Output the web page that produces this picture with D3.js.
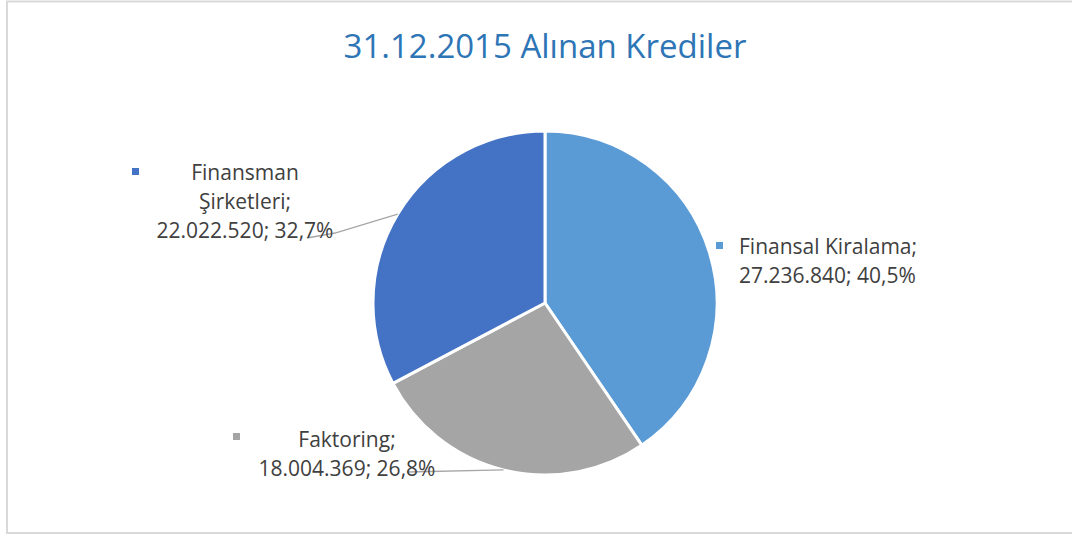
<!DOCTYPE html>
<html><head><meta charset="utf-8">
<script src="https://cdn.jsdelivr.net/npm/d3@7"></script>
<style>
html,body{margin:0;padding:0;background:#fff;}
svg{display:block;font-family:"Open Sans",sans-serif;}
</style></head>
<body>
<svg id="chart" width="1072" height="536"></svg>
<script>
const categories = ["Finansal Kiralama", "Faktoring", "Finansman Şirketleri"];
const values = [27236840, 18004369, 22022520];
const valueLabels = ["27.236.840", "18.004.369", "22.022.520"];
const percentLabels = ["40,5%", "26,8%", "32,7%"];
const colors = ["#5B9BD5", "#A5A5A5", "#4472C4"];
const titleText = "31.12.2015 Alınan Krediler";

const svg = d3.select("#chart");
svg.append("rect").attr("x", 7).attr("y", 1.5).attr("width", 1080).attr("height", 531.5)
  .attr("fill", "#fff").attr("stroke", "#d9d9d9").attr("stroke-width", 2);

svg.append("text").attr("x", 545).attr("y", 58).attr("text-anchor", "middle")
  .attr("fill", "#2E75B6").attr("font-size", 33).text(titleText);

const cx = 545, cy = 303, r = 172;
const g = svg.append("g").attr("transform", `translate(${cx},${cy})`);
const pie = d3.pie().sort(null).value(d => d)(values);
const arc = d3.arc().innerRadius(0).outerRadius(r);
g.selectAll("path").data(pie).join("path")
  .attr("d", arc).attr("fill", (d, i) => colors[i])
  .attr("stroke", "#fff").attr("stroke-width", 3).attr("stroke-linejoin", "round");

const fs = 21, lh = 29;
const labelDefs = [
  {lines: [categories[0] + ";", valueLabels[0] + "; " + percentLabels[0]], x: 739, y: 254, anchor: "start", mx: 716, my: 242, leader: null},
  {lines: [categories[1] + ";", valueLabels[1] + "; " + percentLabels[1]], x: 347, y: 447, anchor: "middle", mx: 233, my: 433, leader: [[407, 472]]},
  {lines: ["Finansman", "Şirketleri;", valueLabels[2] + "; " + percentLabels[2]], x: 245, y: 180, anchor: "middle", mx: 132, my: 168, leader: [[307, 238], [335, 233]]}
];

labelDefs.forEach((L, i) => {
  if (L.leader) {
    const a = (pie[i].startAngle + pie[i].endAngle) / 2;
    const ex = cx + r * Math.sin(a), ey = cy - r * Math.cos(a);
    const pts = L.leader.concat([[ex, ey]]);
    svg.append("path").attr("d", d3.line()(pts)).attr("fill", "none")
      .attr("stroke", "#a6a6a6").attr("stroke-width", 1.3);
  }
  svg.append("rect").attr("x", L.mx).attr("y", L.my).attr("width", 7).attr("height", 7).attr("fill", colors[i]);
  const t = svg.append("text").attr("fill", "#404040").attr("font-size", fs).attr("text-anchor", L.anchor);
  L.lines.forEach((ln, k) => {
    t.append("tspan").attr("x", L.x).attr("y", L.y + k * lh).text(ln);
  });
});
</script>
</body></html>
